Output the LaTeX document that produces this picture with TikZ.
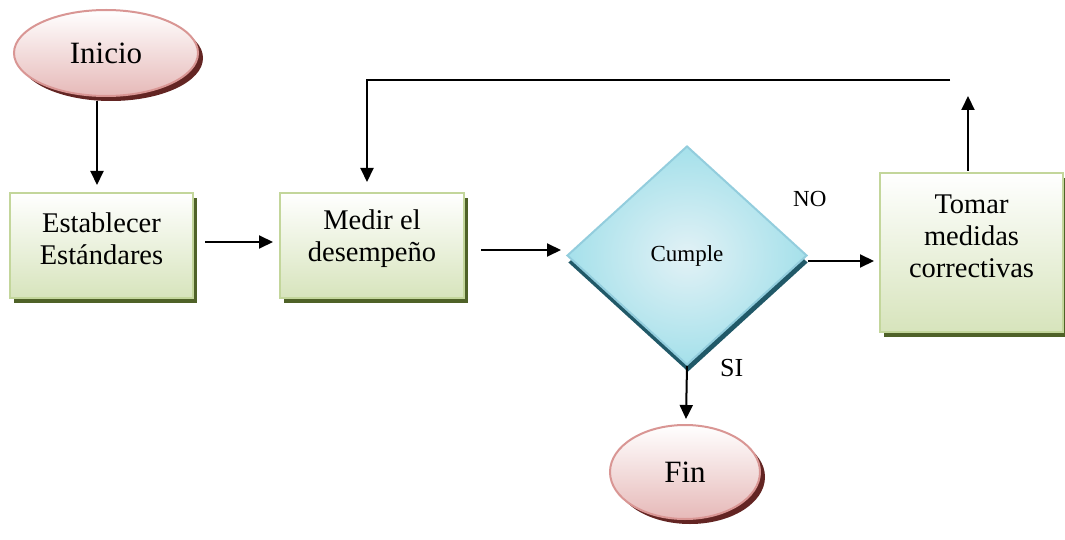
\documentclass[tikz,border=0pt]{standalone}
\usepackage{fontspec}
\setmainfont{Liberation Serif}
\usetikzlibrary{shapes.geometric,arrows.meta,shadows}
\definecolor{termline}{HTML}{D99694}
\definecolor{termfill}{HTML}{E6B9B8}
\definecolor{termshadow}{HTML}{632523}
\definecolor{procline}{HTML}{C3D69B}
\definecolor{procfill}{HTML}{D7E4BC}
\definecolor{procshadow}{HTML}{4F6228}
\definecolor{decline}{HTML}{93CDDD}
\definecolor{decfill}{HTML}{B7DDE8}
\definecolor{decshadow}{HTML}{215968}
\tikzset{
  terminal/.style={ellipse, draw=termline, line width=2pt,
    top color=white, bottom color=termfill, inner sep=0pt,
    general shadow={shadow xshift=5pt, shadow yshift=-5pt, fill=termshadow},
    font=\fontsize{31}{36}\selectfont},
  process/.style={rectangle, draw=procline, line width=2pt,
    top color=white, bottom color=procfill, inner sep=0pt,
    general shadow={shadow xshift=4pt, shadow yshift=-5pt, fill=procshadow}},
  boxtext/.style={align=center, inner sep=0pt, font=\fontsize{28.5}{32}\selectfont},
  decision/.style={diamond, draw=decline, line width=2pt,
    inner color=decfill!40, outer color=decfill!90!cyan, inner sep=0pt,
    general shadow={shadow xshift=1pt, shadow yshift=-7pt, fill=decshadow},
    font=\fontsize{23}{26}\selectfont},
  flow/.style={line width=2pt, -{Triangle[length=14pt,width=13pt]}},
  tag/.style={font=\fontsize{23}{26}\selectfont, inner sep=0pt}
}
\begin{document}
\begin{tikzpicture}[x=1pt, y=-1pt]
\useasboundingbox (0,0) rectangle (1065,540);

\node[terminal, minimum width=184pt, minimum height=86pt] (inicio) at (106,53) {Inicio};
\node[process, minimum width=183pt, minimum height=105pt,
  label={[boxtext, yshift=7pt]center:Establecer\\Estándares}] (estab) at (101.5,245.5) {};
\node[process, minimum width=184pt, minimum height=105pt,
  label={[boxtext, yshift=7pt]center:Medir el\\desempeño}] (medir) at (372,245.5) {};
\node[decision, minimum width=240pt, minimum height=219pt] (cumple) at (687,255.5) {Cumple};
\node[process, minimum width=183pt, minimum height=159pt,
  label={[boxtext, yshift=16.5pt]center:Tomar\\medidas\\correctivas}] (tomar) at (971.5,252.5) {};
\node[terminal, minimum width=150pt, minimum height=94pt] (fin) at (685,472) {Fin};

\node[tag, anchor=west] (no) at (793,199) {NO};
\node[tag, anchor=west, font=\fontsize{26}{28}\selectfont] (si) at (720,368) {SI};

\coordinate (upend) at (968,96);
\coordinate (loopr) at (950,80);
\coordinate (loopl) at (367,80);

\draw[flow] ([xshift=-9pt,yshift=-4pt]inicio.south) -- ([xshift=-4.5pt,yshift=7pt]estab.north);
\draw[flow] ([xshift=11pt,yshift=3.5pt]estab.east) -- ([xshift=-6pt,yshift=3.5pt]medir.west);
\draw[flow] ([xshift=16pt,yshift=-4.5pt]medir.east) -- ([xshift=-5pt,yshift=5.5pt]cumple.west);
\draw[flow] ([yshift=-5.5pt]cumple.east) -- ([xshift=-5pt,yshift=-8.5pt]tomar.west);
\draw[flow] (cumple.south) -- ([xshift=1pt,yshift=5pt]fin.north);
\draw[flow] ([xshift=-3.5pt,yshift=1pt]tomar.north) -- (upend);
\draw[flow] (loopr) -- (loopl) -- ([xshift=-5pt,yshift=10pt]medir.north);
\end{tikzpicture}
\end{document}
